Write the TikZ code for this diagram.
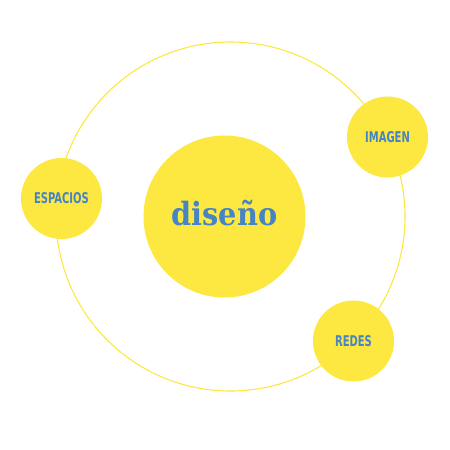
\documentclass[tikz,border=0pt]{standalone}
\usepackage{fontspec}
\newfontfamily\labelfont[FakeStretch=0.75]{DejaVu Sans Condensed}
\newfontfamily\titlefont{DejaVu Serif Condensed}
\definecolor{sunyellow}{RGB}{252,232,64}
\definecolor{inkblue}{RGB}{70,132,197}

\begin{document}
\begin{tikzpicture}[x=1pt, y=-1pt,
	planet/.style={circle, fill=sunyellow, inner sep=0pt, minimum size=81pt, text=inkblue, font=\labelfont\bfseries\fontsize{14.8}{14.8}\selectfont}]
	\useasboundingbox (0,0) rectangle (450,450);
	
	%orbit
	\draw[sunyellow, line width=1.1pt] (230.5,216.5) circle (174.5pt);
	
	%centre
	\node[planet, minimum size=162pt, text depth=8pt, font=\titlefont\bfseries\fontsize{32}{32}\selectfont] (diseno) at (224.5,216.5) {diseño};
	
	%satellites
	\node[planet] (espacios) at (61.5,198.5) {ESPACIOS};
	\node[planet] (imagen) at (387.5,137) {IMAGEN};
	\node[planet] (redes) at (353.5,341) {REDES};
\end{tikzpicture}
\end{document}
